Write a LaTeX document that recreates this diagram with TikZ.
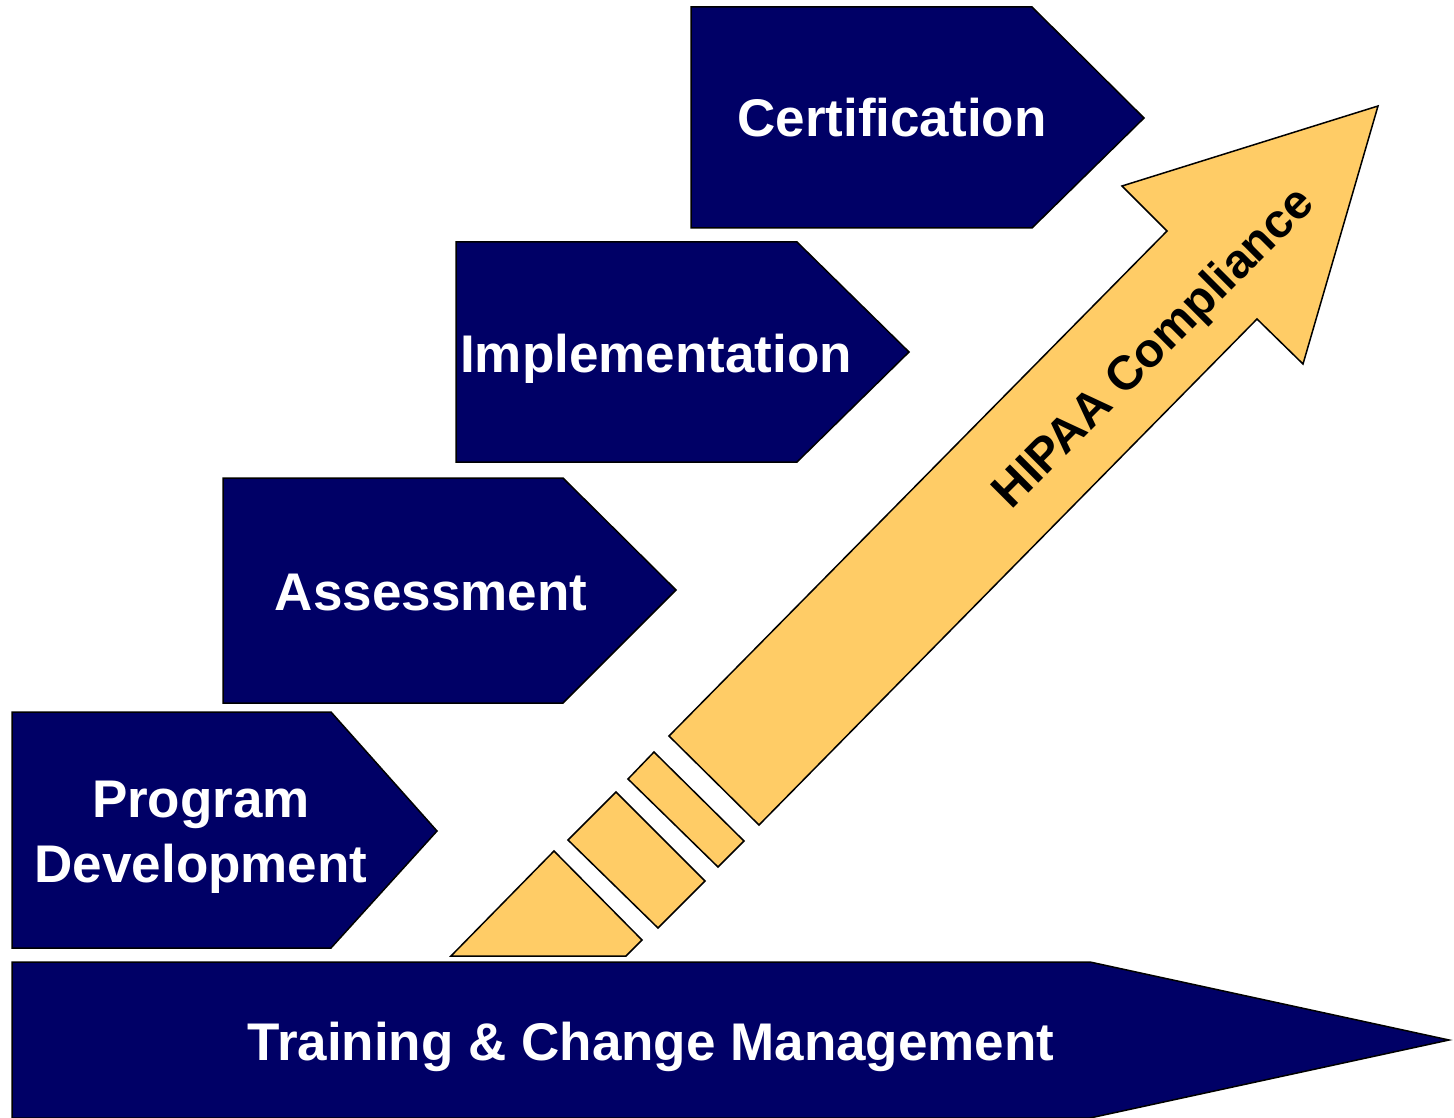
\documentclass[tikz,border=0pt]{standalone}
\usepackage{fontspec}
\setmainfont{Liberation Sans}
\usepackage{tikz}
\definecolor{stepnavy}{RGB}{0,0,102}
\definecolor{arrowgold}{RGB}{255,204,102}
\tikzset{
  phase/.style={fill=stepnavy,draw=black,line width=1.5pt},
  piece/.style={fill=arrowgold,draw=black,line width=1.5pt},
  phasetext/.style={text=white,inner sep=0pt,font=\bfseries\fontsize{53}{65}\selectfont}
}

\begin{document}
\begin{tikzpicture}[x=1pt,y=-1pt]
\useasboundingbox (0,0) rectangle (1454,1118);
% steps
\draw[phase] (691,7) -- (1032,7) -- (1144,118) -- (1032,228) -- (691,228) -- cycle;
\draw[phase] (456,242) -- (797,242) -- (909,352) -- (797,462) -- (456,462) -- cycle;
\draw[phase] (223,478) -- (563,478) -- (676,590) -- (563,703) -- (223,703) -- cycle;
\draw[phase] (12,712) -- (331,712) -- (437,831) -- (331,948) -- (12,948) -- cycle;
% bottom bar
\draw[phase] (12,962) -- (1090,962) -- (1449,1040) -- (1090,1118) -- (12,1118) -- cycle;
% rising arrow
\draw[piece] (451,956) -- (554,851) -- (642,940) -- (626,956) -- cycle;
\draw[piece] (568,840) -- (616,792) -- (705,881) -- (658,928) -- cycle;
\draw[piece] (628,779) -- (654,752) -- (744,841) -- (718,867) -- cycle;
\draw[piece] (669,736) -- (1167,231) -- (1122,186) -- (1378,106) -- (1303,364) -- (1257,319) -- (759,825) -- cycle;
% texts
\node[phasetext,anchor=base] (cert) at (892,137) {Certification};
\node[phasetext,anchor=base] (impl) at (656,372) {Implementation};
\node[phasetext,anchor=base] (assess) at (431,610) {Assessment};
\node[phasetext,align=center] (progdev) at (201,837) {Program\\Development};
\node[phasetext,anchor=base] (training) at (651,1060) {Training \& Change Management};
\node[anchor=base,rotate=45,inner sep=0pt,font=\bfseries\fontsize{48}{57}\selectfont] (hipaa) at (1164,358) {HIPAA Compliance};
\end{tikzpicture}
\end{document}
